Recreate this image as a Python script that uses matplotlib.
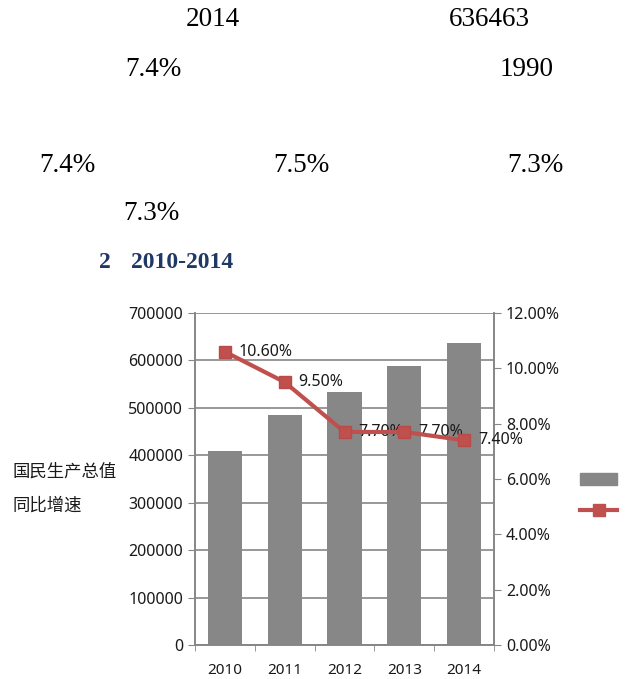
import matplotlib
matplotlib.use("Agg")
import matplotlib.pyplot as plt
from matplotlib.lines import Line2D
from matplotlib.patches import Patch

# ---- data ----
years = ["2010", "2011", "2012", "2013", "2014"]
gdp = [408903, 484124, 534123, 588019, 636463]
growth = [10.6, 9.5, 7.7, 7.7, 7.4]
growth_labels = ["10.60%", "9.50%", "7.70%", "7.70%", "7.40%"]
left_ticks = [0, 100000, 200000, 300000, 400000, 500000, 600000, 700000]
right_ticks = [0, 2, 4, 6, 8, 10, 12]
legend_names = ["国民生产总值", "同比增速"]
body_texts = [("2014", 213, 20), ("636463", 489, 20), ("7.4%", 153, 70),
              ("1990", 527, 70), ("7.4%", 67, 166), ("7.5%", 301, 166),
              ("7.3%", 535, 166), ("7.3%", 151, 213)]

W, H = 629, 679
fig = plt.figure(figsize=(W / 100, H / 100), dpi=100)
fam = ["Noto Sans", "Noto Sans CJK SC", "DejaVu Sans"]
plt.rcParams["font.family"] = fam

def fx(x):
    return x / W

def fy(y):
    return 1 - y / H

for s, x, y in body_texts:
    fig.text(fx(x), fy(y), s, family="Liberation Serif", fontsize=19.5,
             ha="center", va="center", color="black")

fig.text(fx(99), fy(263), "2", family="Liberation Serif", fontsize=17,
         fontweight="bold", color="#1F3864", ha="left", va="center")
fig.text(fx(131), fy(263), "2010-2014", family="Liberation Serif", fontsize=17,
         fontweight="bold", color="#1F3864", ha="left", va="center")

left, right, top, bottom = 195, 494, 313, 645
ax = fig.add_axes([fx(left), fy(bottom), (right - left) / W, (bottom - top) / H])
ax2 = ax.twinx()

x = list(range(len(years)))
bar_color = "#878787"
ax.bar(x, gdp, width=0.57, color=bar_color, zorder=3)
ax.set_ylim(0, 700000)
ax.set_xlim(-0.5, len(years) - 0.5)
ax.set_yticks(left_ticks)
ax.set_yticklabels([str(v) for v in left_ticks])
ax.yaxis.grid(True, color="#868686", linewidth=1.2, zorder=0)
ax.set_axisbelow(True)
ax.set_xticks(x)
ax.set_xticklabels(years)
ax.set_xticks([i - 0.5 for i in range(len(years) + 1)], minor=True)
ax.tick_params(axis="x", which="major", length=0, pad=13, labelsize=11, colors="#1a1a1a")
ax.tick_params(axis="x", which="minor", length=4, color="#868686")
ax.tick_params(axis="y", length=5, color="#868686", labelsize=11.5, labelcolor="#1a1a1a")

ax2.plot(x, growth, color="#C0504D", linewidth=3, marker="s", markersize=9,
         markerfacecolor="#C0504D", markeredgecolor="#B84A47", zorder=4)
for xi, g, lab in zip(x, growth, growth_labels):
    ax2.annotate(lab, (xi, g), xytext=(14, 0), textcoords="offset pixels",
                 ha="left", va="center", fontsize=11.5, color="#1a1a1a")
ax2.set_ylim(0, 12)
ax2.set_yticks(right_ticks)
ax2.set_yticklabels(["%.2f%%" % v for v in right_ticks])
ax2.tick_params(axis="y", length=5, color="#868686", labelsize=11.5, labelcolor="#1a1a1a")

for a in (ax, ax2):
    a.spines["top"].set_visible(False)
    for side in ("left", "right", "bottom"):
        a.spines[side].set_color("#868686")
        a.spines[side].set_linewidth(1.2)

# legend labels (left) and swatches (right)
fig.text(fx(12), fy(472), legend_names[0], fontsize=12.5, color="#1a1a1a", ha="left", va="center")
fig.text(fx(12), fy(506), legend_names[1], fontsize=12.5, color="#1a1a1a", ha="left", va="center")
handles = [Patch(facecolor=bar_color, edgecolor=bar_color),
           Line2D([0], [0], color="#C0504D", linewidth=3, marker="s", markersize=9)]
fig.legend(handles, ["", ""], loc="upper left", bbox_to_anchor=(fx(573), fy(466)),
           frameon=False, handlelength=2.7, handleheight=1.0, labelspacing=1.2,
           handletextpad=0, borderpad=0)

fig.savefig("out.png", dpi=100)
